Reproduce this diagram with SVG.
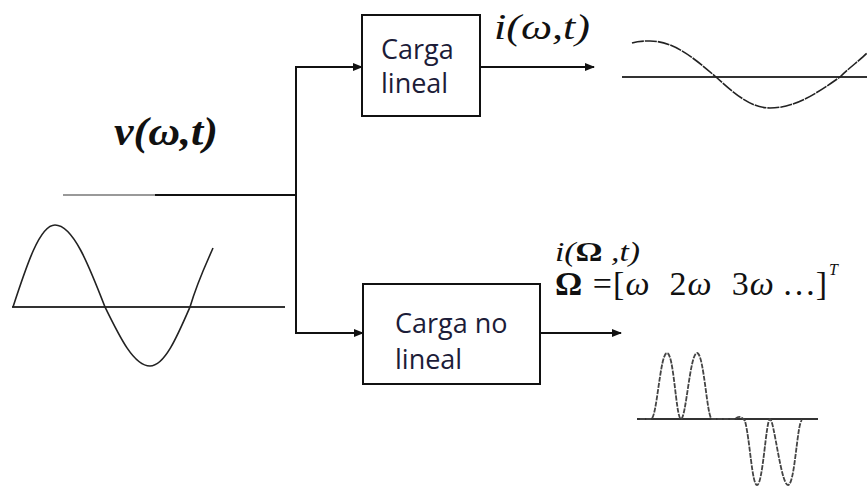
<svg xmlns="http://www.w3.org/2000/svg" width="867" height="489" viewBox="0 0 867 489">
<style>
.box{fill:#fff;stroke:#111;stroke-width:2}
.wire{fill:none;stroke:#111;stroke-width:2}
.lbl{font-family:"Open Sans","Noto Sans",sans-serif;font-size:27px;fill:#1c1c38}
.math{font-family:"Liberation Serif","Times New Roman",serif;font-style:italic;fill:#111}
.axis{stroke:#333;stroke-width:2;fill:none}
.wave{fill:none;stroke:#222;stroke-width:1.6}
</style>
<defs>
<marker id="ah" viewBox="0 0 10 8" refX="9" refY="4" markerWidth="5" markerHeight="4" orient="auto" markerUnits="strokeWidth">
<path d="M0,0 L10,4 L0,8 Z" fill="#111"/>
</marker>
</defs>
<rect width="867" height="489" fill="#fff"/>

<g id="connectors">
<line x1="63" y1="195" x2="155" y2="195" stroke="#777" stroke-width="1.6"/>
<line class="wire" x1="155" y1="195" x2="296" y2="195" stroke-width="1.8"/>
<line class="wire" x1="296" y1="66" x2="296" y2="334"/>
<line class="wire" x1="296" y1="67" x2="362" y2="67" marker-end="url(#ah)"/>
<line class="wire" x1="480" y1="67" x2="594" y2="67" marker-end="url(#ah)"/>
<line class="wire" x1="296" y1="333" x2="363" y2="333" marker-end="url(#ah)"/>
<line class="wire" x1="540" y1="333" x2="621" y2="333" marker-end="url(#ah)"/>
</g>

<g id="node-carga-lineal">
<rect class="box" x="362" y="15" width="118" height="101"/>
<text class="lbl" x="381" y="59">Carga</text>
<text class="lbl" x="381" y="93">lineal</text>
</g>

<g id="node-carga-no-lineal">
<rect class="box" x="363" y="284" width="177" height="100"/>
<text class="lbl" x="395" y="333">Carga no</text>
<text class="lbl" x="395" y="369">lineal</text>
</g>

<g id="labels">
<text class="math" x="114" y="145" font-size="40" font-weight="bold" textLength="104" lengthAdjust="spacingAndGlyphs">v(ω,t)</text>
<text class="math" x="494" y="39" font-size="36" textLength="96" lengthAdjust="spacingAndGlyphs">i(ω,t)</text>
<text class="math" x="555" y="261" font-size="28" textLength="85" lengthAdjust="spacingAndGlyphs">i(<tspan font-style="normal" font-weight="bold">Ω</tspan> ,t)</text>
<text class="math" x="555" y="295" font-size="34" xml:space="preserve" textLength="272" lengthAdjust="spacing"><tspan font-style="normal" font-weight="bold">Ω</tspan><tspan font-style="normal"> =[</tspan>ω  <tspan font-style="normal">2</tspan>ω  <tspan font-style="normal">3</tspan>ω …<tspan font-style="normal">]</tspan></text>
<text class="math" x="829" y="275" font-size="16">T</text>
</g>

<g id="wave-input">
<line class="axis" x1="12" y1="307" x2="285" y2="307"/>
<path class="wave" d="M13,307 C26.7,265 39.8,225 55,225 C73.1,225 88.7,265 105,307 C119.7,337 133.7,366 150,366 C164.5,366 177,337 190,307 C198,280 207,262 213,248"/>
</g>

<g id="wave-linear">
<line class="axis" x1="622" y1="77" x2="867" y2="77" stroke-width="1.6"/>
<path class="wave" stroke-dasharray="12 1" d="M632,43 C638,41 644,41 650,41 C673.9,41 694.5,58.6 716,77 C733.6,93 750.5,108 770,108 C795.3,108 817.2,93 840,77 C849,68 860,60 867,53"/>
</g>

<g id="wave-nonlinear">
<line class="axis" x1="637" y1="419" x2="818" y2="419" stroke="#111" stroke-width="3"/>
<path fill="none" stroke="#444" stroke-width="1.8" stroke-dasharray="5 1.2" d="M640,419 L651,419 C657,419 660,353 667,353 C674,353 676,419 681,419 C686,419 690,353 697,353 C704,353 707,419 712,419 L735,419 C738,416 742,416 745,421 C750,440 752,485 757,485 C763,485 766,419 770,419 C774,419 781,485 788,485 C795,485 797,423 802,420"/>
</g>
</svg>
